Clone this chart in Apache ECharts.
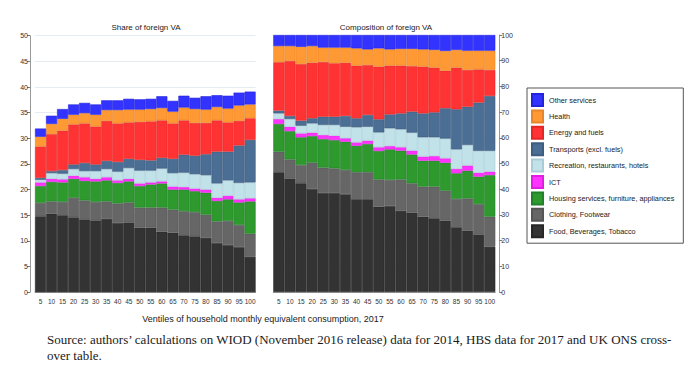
<!DOCTYPE html>
<html>
<head>
<meta charset="utf-8">
<script src="https://cdn.jsdelivr.net/npm/echarts@6/dist/echarts.min.js"></script>
<style>
  html, body { margin: 0; padding: 0; background: #fff; }
  #chart { width: 684px; height: 366px; }
</style>
</head>
<body>
<div id="chart"></div>
<script>
// Categories
const ventiles = ['5', '10', '15', '20', '25', '30', '35', '40', '45', '50',
                  '55', '60', '65', '70', '75', '80', '85', '90', '95', '100'];

// Stack order, bottom to top
const groups = [
    'Food, Beverages, Tobacco',
    'Clothing, Footwear',
    'Housing services, furniture, appliances',
    'ICT',
    'Recreation, restaurants, hotels',
    'Transports (excl. fuels)',
    'Energy and fuels',
    'Health',
    'Other services'
];
const fills   = ['#333333', '#666666', '#2e9a2e', '#ff33ff', '#c2e2ea', '#4b6e94', '#ff3333', '#ff9933', '#3333ff'];
const outlines = ['#262626', '#555555', '#23802a', '#e020e0', '#a9cdd8', '#3e5d80', '#e52626', '#e8852a', '#2424dd'];

// Share of foreign VA (left panel)
const shareFood     = [14.8, 15.3, 15.0, 14.6, 14.2, 14.0, 14.3, 13.5, 13.6, 12.6, 12.6, 11.8, 11.6, 11.1, 10.9, 10.6, 9.6, 9.2, 8.8, 6.9];
const shareClothing = [2.6, 2.4, 2.6, 3.8, 3.7, 3.6, 3.4, 3.8, 3.9, 3.9, 3.9, 4.7, 4.5, 4.7, 4.7, 4.5, 4.2, 4.7, 4.3, 4.5];
const shareHousing  = [3.3, 3.8, 3.8, 3.7, 3.8, 4.0, 4.1, 4.0, 4.1, 4.2, 4.5, 4.7, 3.9, 4.2, 4.1, 4.3, 4.0, 4.2, 4.4, 6.3];
const shareICT      = [0.7, 0.6, 0.6, 0.6, 0.7, 0.5, 0.6, 0.5, 0.5, 0.5, 0.4, 0.4, 0.6, 0.5, 0.5, 0.6, 0.6, 0.7, 0.6, 0.6];
const shareRecr     = [0.5, 1.1, 1.1, 1.3, 1.2, 1.5, 1.6, 1.7, 2.1, 2.5, 2.3, 2.5, 2.6, 2.8, 2.8, 2.8, 2.8, 3.0, 3.2, 3.1];
const shareTransp   = [0.4, 0.4, 0.7, 0.9, 1.6, 1.3, 1.6, 1.9, 1.8, 2.1, 2.0, 2.1, 2.8, 3.5, 3.6, 4.1, 6.2, 5.6, 7.3, 8.3];
const shareEnergy   = [6.1, 7.2, 7.7, 7.8, 7.7, 7.4, 7.8, 7.5, 7.1, 7.4, 7.6, 7.3, 6.9, 6.7, 6.4, 6.1, 6.1, 5.7, 4.8, 4.2];
const shareHealth   = [1.9, 2.0, 2.3, 1.9, 2.0, 2.3, 2.1, 2.6, 2.5, 2.4, 2.4, 2.4, 2.3, 2.5, 2.7, 2.6, 2.6, 2.7, 3.0, 2.7];
const shareOther    = [1.6, 1.6, 1.9, 2.0, 2.0, 2.0, 1.9, 1.9, 2.1, 2.0, 2.0, 2.3, 2.1, 2.3, 2.2, 2.6, 2.3, 2.5, 2.5, 2.5];

// Composition of foreign VA (right panel)
const compFood     = [46.6, 44.2, 42.3, 40.1, 38.5, 38.5, 38.1, 36.1, 36.1, 33.2, 33.5, 31.6, 30.9, 29.3, 28.7, 27.8, 25.2, 23.9, 22.4, 17.6];
const compClothing = [8.0, 7.4, 7.1, 10.2, 9.9, 9.6, 9.4, 10.5, 10.5, 10.6, 10.1, 12.2, 11.4, 11.7, 12.3, 11.6, 11.0, 12.5, 11.8, 11.7];
const compHousing  = [10.8, 11.0, 10.8, 10.4, 11.1, 11.0, 11.0, 10.3, 11.0, 11.1, 11.9, 11.2, 11.2, 10.1, 10.1, 10.9, 10.0, 10.8, 10.7, 16.2];
const compICT      = [1.9, 1.7, 1.5, 1.3, 1.6, 1.7, 1.3, 1.3, 1.3, 1.4, 1.3, 1.3, 1.5, 1.6, 1.8, 1.7, 1.7, 2.0, 1.5, 1.3];
const compRecr     = [2.2, 3.0, 3.0, 3.6, 3.9, 4.2, 4.5, 5.9, 5.4, 5.8, 6.9, 7.0, 7.0, 7.5, 7.3, 7.7, 7.6, 8.0, 8.5, 8.1];
const compTransp   = [1.1, 1.2, 2.0, 2.0, 3.2, 3.2, 4.2, 3.5, 4.6, 5.1, 5.4, 6.2, 8.2, 9.3, 9.7, 11.8, 15.6, 14.9, 18.8, 21.4];
const compEnergy   = [18.8, 21.4, 22.0, 21.6, 21.3, 20.8, 20.7, 20.5, 19.4, 20.5, 19.0, 18.6, 17.7, 18.2, 17.4, 14.6, 16.2, 14.3, 12.9, 10.1];
const compHealth   = [6.3, 5.8, 6.7, 6.5, 5.6, 6.1, 5.9, 6.7, 6.1, 7.1, 6.3, 6.5, 6.7, 6.7, 6.9, 7.7, 6.9, 7.5, 7.3, 7.5];
const compOther    = [4.3, 4.3, 4.6, 4.3, 4.9, 4.9, 4.9, 5.2, 5.6, 5.2, 5.6, 5.4, 5.4, 5.6, 5.8, 6.2, 5.8, 6.1, 6.1, 6.1];

const shareData = [shareFood, shareClothing, shareHousing, shareICT, shareRecr, shareTransp, shareEnergy, shareHealth, shareOther];
const compData  = [compFood, compClothing, compHousing, compICT, compRecr, compTransp, compEnergy, compHealth, compOther];

const font = 'Liberation Sans, Arial, sans-serif';
const serif = 'Liberation Serif, Times New Roman, serif';
const chart = echarts.init(document.getElementById('chart'), null, { renderer: 'svg' });

function makeSeries(data, idx, stackName) {
    return data.map((vals, i) => ({
        name: groups[i],
        type: 'bar',
        stack: stackName,
        xAxisIndex: idx,
        yAxisIndex: idx,
        barCategoryGap: '0%',
        barGap: '0%',
        itemStyle: { color: fills[i], borderColor: outlines[i], borderWidth: 0.6 },
        emphasis: { disabled: true },
        data: vals
    }));
}

function xAxisFor(idx) {
    return {
        type: 'category',
        gridIndex: idx,
        data: ventiles,
        offset: 3,
        axisLine: { lineStyle: { color: '#999', width: 1 } },
        axisTick: { alignWithLabel: true, length: 3, lineStyle: { color: '#777' } },
        axisLabel: { interval: 0, fontSize: 6.5, color: '#333', fontFamily: font, margin: 3 }
    };
}

function label(text, x, y, size, family, align) {
    return {
        type: 'text', x: x, y: y,
        style: { text: text, fontSize: size, fill: '#1a1a1a', fontFamily: family,
                 align: align, textAlign: align, verticalAlign: 'top' }
    };
}

const option = {
    animation: false,
    backgroundColor: '#fff',
    grid: [
        { left: 35, top: 35.7, width: 220.6, height: 256.5 },
        { left: 273.3, top: 35, width: 222, height: 257 }
    ],
    xAxis: [xAxisFor(0), xAxisFor(1)],
    yAxis: [
        {
            type: 'value', gridIndex: 0, min: 0, max: 50, interval: 5,
            position: 'left', offset: 5,
            axisLine: { show: true, lineStyle: { color: '#999' } },
            axisTick: { show: true, length: 3, lineStyle: { color: '#777' } },
            axisLabel: { fontSize: 7, color: '#333', fontFamily: font, margin: 2 },
            splitLine: { lineStyle: { color: '#e4ecf1', width: 1 } }
        },
        {
            type: 'value', gridIndex: 1, min: 0, max: 100, interval: 10,
            position: 'right', offset: 4,
            axisLine: { show: true, lineStyle: { color: '#999' } },
            axisTick: { show: true, length: 3, lineStyle: { color: '#777' } },
            axisLabel: { fontSize: 7, color: '#333', fontFamily: font, margin: 2 },
            splitLine: { lineStyle: { color: '#e4ecf1', width: 1 } }
        }
    ],
    legend: {
        orient: 'vertical',
        left: 527, top: 88,
        data: groups.slice().reverse(),
        icon: 'rect',
        itemWidth: 11, itemHeight: 12, itemGap: 2.4,
        padding: [5, 9, 5, 4],
        borderColor: '#555', borderWidth: 1,
        selectedMode: false,
        textStyle: { fontSize: 7.3, color: '#222', fontFamily: font, padding: [0, 0, 0, 1], lineHeight: 10 }
    },
    graphic: [
        label('Share of foreign VA', 146, 23, 8, font, 'center'),
        label('Composition of foreign VA', 386, 23, 8, font, 'center'),
        label('Ventiles of household monthly equivalent consumption, 2017', 263, 314, 9, font, 'center'),
        label('Source: authors\u2019 calculations on WIOD (November 2016 release) data for 2014, HBS data for 2017 and UK ONS cross-', 47, 333, 13, serif, 'left'),
        label('over table.', 47, 349, 13, serif, 'left')
    ],
    series: [...makeSeries(shareData, 0, 'share'), ...makeSeries(compData, 1, 'comp')]
};

chart.setOption(option);
</script>
</body>
</html>
